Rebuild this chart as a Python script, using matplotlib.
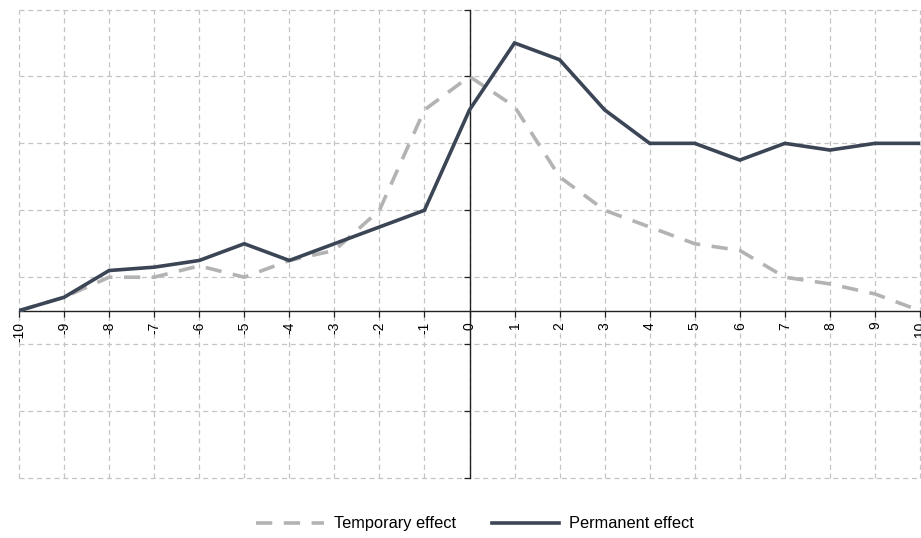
import matplotlib.pyplot as plt
import numpy as np

plt.rcParams['font.family'] = ['Liberation Sans', 'DejaVu Sans']

# Event time, in periods relative to the shock
periods = list(range(-10, 11))

temporary_effect = [0.0, 0.2, 0.5, 0.5, 0.67, 0.5, 0.75, 0.9, 1.5, 3.0, 3.5,
                    3.05, 2.0, 1.5, 1.25, 1.0, 0.9, 0.5, 0.4, 0.25, 0.0]
permanent_effect = [0.0, 0.2, 0.6, 0.65, 0.75, 1.0, 0.75, 1.0, 1.25, 1.5, 3.0,
                    4.0, 3.75, 3.0, 2.5, 2.5, 2.25, 2.5, 2.4, 2.5, 2.5]

y_ticks = [-2.5, -1.5, -0.5, 0.5, 1.5, 2.5, 3.5, 4.5]

W, H = 921, 538
fig = plt.figure(figsize=(W / 100, H / 100), dpi=100)
ax = fig.add_axes([19 / W, (H - 478) / H, (920 - 19) / W, (478 - 9.5) / H])

ax.plot(periods, temporary_effect, color='#b3b3b3', lw=2.6,
        dashes=(4.5, 3.2), label='Temporary effect', zorder=3)
ax.plot(periods, permanent_effect, color='#3b4556', lw=2.6,
        label='Permanent effect', zorder=4, solid_joinstyle='miter')

ax.set_xlim(-10, 10)
ax.set_ylim(-2.5, 4.5)
ax.set_xticks(periods)
ax.set_xticklabels([str(p) for p in periods], fontsize=10, color='#222222')
ax.set_yticks(y_ticks)
ax.set_yticklabels([])

# axes cross at the origin
for side in ('top', 'right'):
    ax.spines[side].set_visible(False)
ax.spines['left'].set_position(('data', 0))
ax.spines['bottom'].set_position(('data', 0))
for side in ('left', 'bottom'):
    ax.spines[side].set_color('#222222')
    ax.spines[side].set_linewidth(1.0)
ax.tick_params(axis='x', direction='out', length=4, width=0.9,
               color='#222222', pad=4, labelrotation=90)
ax.tick_params(axis='y', direction='out', length=4, width=0.9,
               color='#222222')

ax.grid(True, color='#c4c4c4', lw=0.9, dashes=(4, 3))
for gl in ax.get_xgridlines() + ax.get_ygridlines():
    gl.set_clip_on(False)
ax.set_axisbelow(True)

ax.legend(loc='center', bbox_to_anchor=(0.506, -0.098), ncol=2,
          frameon=False, fontsize=11.8, handlelength=4.1, handletextpad=0.6,
          columnspacing=2.2)

fig.savefig('out.png', dpi=100)
